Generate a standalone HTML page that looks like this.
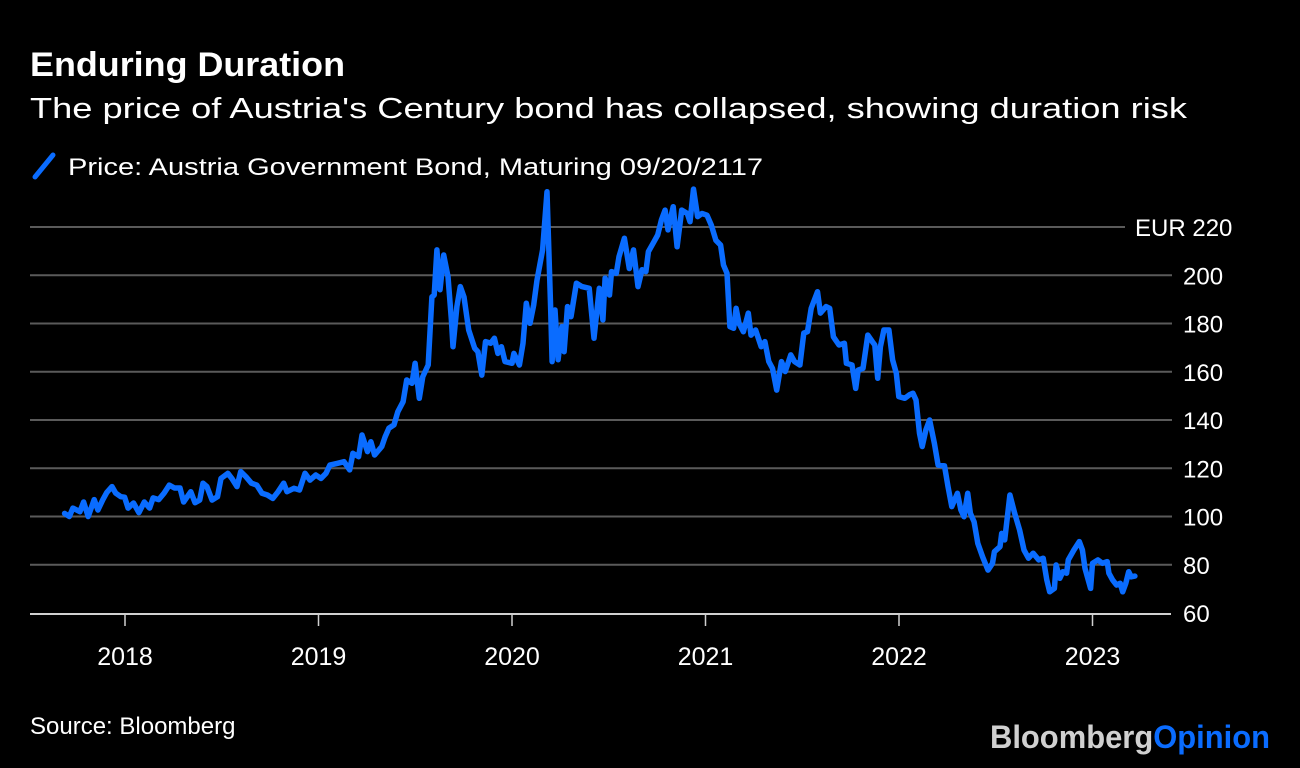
<!DOCTYPE html>
<html><head><meta charset="utf-8"><style>
html,body{margin:0;padding:0;background:#000;width:1300px;height:768px;overflow:hidden}
svg{display:block;font-family:"Liberation Sans",Arial,sans-serif}
</style></head><body>
<svg id="chart" width="1300" height="768" viewBox="0 0 1300 768">
<rect x="0" y="0" width="1300" height="768" fill="#000"/>
<text x="30" y="76" font-size="34" font-weight="bold" fill="#fff" textLength="315" lengthAdjust="spacingAndGlyphs">Enduring Duration</text>
<text x="30" y="118" font-size="29" fill="#fff" textLength="1157" lengthAdjust="spacingAndGlyphs">The price of Austria's Century bond has collapsed, showing duration risk</text>
<g>
<line x1="35" y1="177" x2="53" y2="155" stroke="#0a6cff" stroke-width="5" stroke-linecap="round"/>
<text x="68" y="175" font-size="24" fill="#fff" textLength="695" lengthAdjust="spacingAndGlyphs">Price: Austria Government Bond, Maturing 09/20/2117</text>
</g>
<g id="grid"></g>
<g id="yticks"></g>
<g id="xaxis"></g>
<g id="series"></g>
<text x="30" y="734" font-size="24" fill="#fff">Source: Bloomberg</text>
<text x="990" y="748" font-size="32" font-weight="bold" textLength="280" lengthAdjust="spacingAndGlyphs"><tspan fill="#d0d0d0">Bloomberg</tspan><tspan fill="#0a6cff">Opinion</tspan></text>
</svg>
<script>
const yTickValues = [60, 80, 100, 120, 140, 160, 180, 200, 220];
const yTickLabels = ["60", "80", "100", "120", "140", "160", "180", "200", "EUR 220"];
const xTickYears = [2018, 2019, 2020, 2021, 2022, 2023];
const xTickLabels = ["2018", "2019", "2020", "2021", "2022", "2023"];
const yearOffsets = [-0.312,-0.288,-0.269,-0.233,-0.214,-0.190,-0.159,-0.140,-0.114,-0.094,-0.067,-0.048,-0.021,-0.002,0.016,0.044,0.072,0.100,0.127,0.145,0.174,0.202,0.229,0.256,0.284,0.303,0.340,0.362,0.386,0.403,0.423,0.450,0.478,0.496,0.532,0.552,0.579,0.598,0.625,0.653,0.681,0.708,0.736,0.764,0.791,0.820,0.837,0.873,0.902,0.930,0.956,0.986,1.013,1.039,1.059,1.096,1.132,1.161,1.178,1.207,1.225,1.253,1.271,1.290,1.327,1.344,1.364,1.390,1.410,1.437,1.456,1.483,1.499,1.521,1.539,1.567,1.586,1.598,1.612,1.628,1.647,1.669,1.687,1.695,1.715,1.733,1.752,1.776,1.807,1.824,1.844,1.863,1.890,1.909,1.927,1.945,1.964,2.000,2.010,2.038,2.057,2.074,2.093,2.112,2.129,2.158,2.181,2.200,2.207,2.222,2.238,2.258,2.269,2.287,2.305,2.333,2.361,2.399,2.424,2.451,2.470,2.481,2.504,2.514,2.539,2.553,2.581,2.606,2.628,2.651,2.672,2.692,2.705,2.734,2.753,2.772,2.791,2.806,2.833,2.853,2.877,2.906,2.920,2.938,2.959,2.982,3.008,3.030,3.054,3.078,3.093,3.111,3.126,3.145,3.158,3.173,3.196,3.221,3.235,3.259,3.288,3.307,3.327,3.346,3.368,3.393,3.412,3.441,3.460,3.488,3.508,3.527,3.546,3.579,3.594,3.623,3.642,3.661,3.690,3.718,3.728,3.757,3.776,3.789,3.814,3.839,3.862,3.875,3.890,3.904,3.922,3.948,3.967,3.986,3.999,4.030,4.053,4.072,4.088,4.106,4.120,4.139,4.158,4.183,4.202,4.235,4.253,4.273,4.302,4.320,4.336,4.355,4.369,4.388,4.407,4.432,4.460,4.483,4.493,4.522,4.531,4.546,4.573,4.598,4.623,4.646,4.669,4.693,4.722,4.745,4.764,4.779,4.803,4.812,4.831,4.847,4.866,4.875,4.904,4.932,4.948,4.961,4.990,5.000,5.028,5.051,5.076,5.085,5.104,5.124,5.143,5.156,5.172,5.187,5.200,5.219];
const prices = [101.3,100,103.5,102,106,100,107,102.7,107,110,112.4,109.7,108.2,108,103.5,105.6,101.6,106,103.5,107.7,107,109.7,113,111.8,111.8,106,110.3,105.7,106.8,113.8,112.4,106.8,108.2,115.8,117.9,115.8,112.4,118.6,116.5,113.8,113,109.6,108.9,107.5,110.3,113.8,110.3,111.7,111,117.9,115.1,117.2,115.8,117.9,121.3,122,122.7,119.3,126.2,124.8,133.8,126.9,131,125.5,129,133,136.6,138,143.4,147.6,156.6,155.2,163.5,149,158,162.8,191,191.8,210.5,194,208.4,199.4,181.5,170.4,187,195.3,191,177.3,169.7,168.3,158.6,172.5,171.8,173.9,167.6,170.4,164.2,163.5,167.6,162.8,171.8,188.4,180.1,187.7,198,210.5,234.6,185.6,164.2,185.6,165,178.7,168.3,187,182.8,196.7,195.3,194.6,173.9,194.6,181.5,198.8,191.8,201.5,200.8,207.7,215.3,202.8,210.5,195.3,202.3,201.5,209.8,213.9,216.7,222.9,227,218.8,228.4,211.8,227,225.6,222.2,235.7,224.3,225.6,224.9,220.8,214.5,212.5,204.2,200.8,178.7,178,186.3,180.1,176.6,184.3,175.2,177.3,170.4,172.5,164.2,161.4,152.4,164.2,160.1,167,164.2,162.8,176,176.6,186.3,193.2,184.3,187,186.3,174.5,171.1,171.8,163.5,162.8,153.1,160.7,161.4,175.2,172.5,171.1,157.3,170.4,177.3,177.3,164.9,159.4,149.7,149,150.4,151.1,148.3,134.5,129,135.9,140,130.3,121.3,121,112.4,104.1,109.6,102.7,99.9,109.6,101.3,97.8,88.9,83.3,77.8,80.6,85.4,87.5,93,90.3,108.9,101.3,94.4,86.1,82.7,84.8,82,82.7,73.7,68.8,70.2,79.9,74.4,77.1,76.5,82,86.1,89.6,86.1,78.5,70.2,80.6,82,80.6,81.3,76.5,73.7,71.6,72.3,68.8,72.3,77.1,75,75.3];

const NS = "http://www.w3.org/2000/svg";
const X0 = 125, PX_PER_YEAR = 193.5;
const Y0 = 613, PX_PER_UNIT = 2.4125, YMIN = 60;
function xScale(yearValue) { return X0 + (yearValue - 2018) * PX_PER_YEAR; }
function yScale(v) { return Y0 - (v - YMIN) * PX_PER_UNIT; }

const grid = document.getElementById("grid");
const yt = document.getElementById("yticks");
yTickValues.forEach((v, i) => {
  const y = yScale(v);
  if (v !== YMIN) {
    const ln = document.createElementNS(NS, "line");
    ln.setAttribute("x1", 30);
    ln.setAttribute("x2", v === 220 ? 1125 : 1172);
    ln.setAttribute("y1", y); ln.setAttribute("y2", y);
    ln.setAttribute("stroke", "#5a5a5a"); ln.setAttribute("stroke-width", 2);
    
    
    grid.appendChild(ln);
  }
  const t = document.createElementNS(NS, "text");
  t.setAttribute("x", v === 220 ? 1135 : 1183);
  t.setAttribute("y", y + 9);
  t.setAttribute("font-size", 24);
  t.setAttribute("fill", "#fff");
  t.textContent = yTickLabels[i];
  
  
  yt.appendChild(t);
});

const xa = document.getElementById("xaxis");
const axisLine = document.createElementNS(NS, "line");
axisLine.setAttribute("x1", 30); axisLine.setAttribute("x2", 1171);
axisLine.setAttribute("y1", Y0 + 1); axisLine.setAttribute("y2", Y0 + 1);
axisLine.setAttribute("stroke", "#d0d0d0"); axisLine.setAttribute("stroke-width", 2);


xa.appendChild(axisLine);
xTickYears.forEach((yr, i) => {
  const x = xScale(yr);
  const tk = document.createElementNS(NS, "line");
  tk.setAttribute("x1", x); tk.setAttribute("x2", x);
  tk.setAttribute("y1", Y0 + 1); tk.setAttribute("y2", Y0 + 13);
  tk.setAttribute("stroke", "#d0d0d0"); tk.setAttribute("stroke-width", 1.5);
  
  
  xa.appendChild(tk);
  const t = document.createElementNS(NS, "text");
  t.setAttribute("x", x); t.setAttribute("y", 665);
  t.setAttribute("font-size", 25); t.setAttribute("fill", "#fff");
  t.setAttribute("text-anchor", "middle");
  t.textContent = xTickLabels[i];
  
  
  xa.appendChild(t);
});

const pts = yearOffsets.map((o, i) => xScale(2018 + o).toFixed(1) + "," + yScale(prices[i]).toFixed(1)).join(" ");
const pl = document.createElementNS(NS, "polyline");
pl.setAttribute("points", pts);
pl.setAttribute("fill", "none");
pl.setAttribute("stroke", "#0a6cff");
pl.setAttribute("stroke-width", 5.5);
pl.setAttribute("stroke-linejoin", "round");
pl.setAttribute("stroke-linecap", "round");


document.getElementById("series").appendChild(pl);
</script>
</body></html>
